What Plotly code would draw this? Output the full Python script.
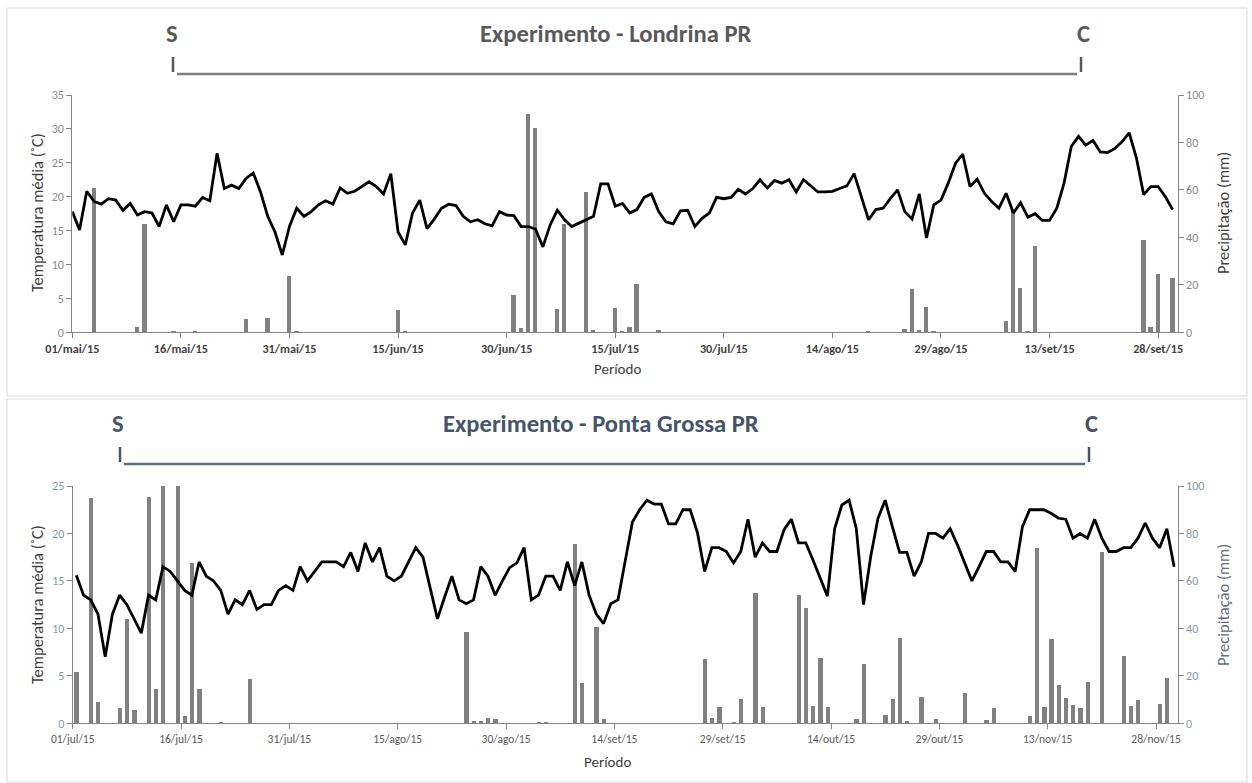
import plotly.graph_objects as go
import pandas as pd

W, H = 1252, 783

# ---------------- DATA ----------------
months_pt = ["jan", "fev", "mar", "abr", "mai", "jun", "jul", "ago", "set", "out", "nov", "dez"]

lon_dates = pd.date_range("2015-05-01", "2015-09-30", freq="D")
pg_dates = pd.date_range("2015-07-01", "2015-11-30", freq="D")

lon_temp = [
    17.8, 15.1, 20.8, 19.3, 18.9, 19.7, 19.5, 18.0, 19.0, 17.3,
    17.8, 17.6, 15.6, 18.8, 16.3, 18.8, 18.8, 18.6, 19.9, 19.4,
    26.4, 21.2, 21.7, 21.2, 22.7, 23.5, 20.7, 17.1, 14.8, 11.4,
    15.6, 18.3, 17.1, 17.8, 18.8, 19.4, 18.9, 21.3, 20.5, 20.8,
    21.5, 22.2, 21.5, 20.4, 23.4, 14.8, 12.9, 17.6, 19.5, 15.3,
    16.7, 18.3, 18.9, 18.7, 17.1, 16.3, 16.6, 16.0, 15.7, 17.8,
    17.3, 17.2, 15.6, 15.6, 15.2, 12.6, 15.8, 18.0, 16.6, 15.6,
    16.1, 16.6, 17.1, 21.9, 21.9, 18.6, 19.0, 17.6, 18.1, 19.9,
    20.4, 17.8, 16.3, 16.0, 17.9, 18.0, 15.6, 16.8, 17.6, 19.9,
    19.7, 19.9, 21.1, 20.4, 21.2, 22.5, 21.3, 22.4, 22.0, 22.5,
    20.7, 22.5, 21.6, 20.7, 20.7, 20.8, 21.2, 21.6, 23.4, 20.0,
    16.6, 18.1, 18.3, 19.7, 21.0, 17.8, 16.7, 20.4, 13.9, 18.8,
    19.5, 22.0, 24.9, 26.3, 21.5, 22.6, 20.5, 19.3, 18.3, 20.5,
    17.6, 19.1, 17.0, 17.5, 16.5, 16.5, 18.3, 22.0, 27.4, 28.9,
    27.6, 28.3, 26.6, 26.5, 27.1, 28.1, 29.4, 25.7, 20.3, 21.5,
    21.5, 20.0, 18.1,
]

lon_prec = [
    0, 0, 0, 61, 0, 0, 0, 0, 0, 2.1,
    45.5, 0, 0, 0, 0.3, 0, 0, 0.5, 0, 0,
    0, 0, 0, 0, 5.5, 0, 0, 6.0, 0, 0,
    23.7, 0.3, 0, 0, 0, 0, 0, 0, 0, 0,
    0, 0, 0, 0, 0, 9.4, 0.3, 0, 0, 0,
    0, 0, 0, 0, 0, 0, 0, 0, 0, 0,
    0, 15.7, 1.7, 91.9, 86.2, 0, 0, 9.7, 45.6, 0,
    0, 59.3, 1.0, 0, 0, 10.4, 0.3, 2.1, 20.2, 0,
    0, 1.0, 0, 0, 0, 0, 0, 0, 0, 0,
    0, 0, 0, 0, 0, 0, 0, 0, 0, 0,
    0, 0, 0, 0, 0, 0, 0, 0, 0, 0,
    0.7, 0, 0, 0, 0, 1.3, 18.1, 1.1, 10.8, 0.4,
    0, 0, 0, 0, 0, 0, 0, 0, 0, 4.9,
    51, 18.5, 0.4, 36.5, 0, 0, 0, 0, 0, 0,
    0, 0, 0, 0, 0, 0, 0, 0, 38.9, 2.1,
    24.4, 0, 23.0,
]

pg_temp = [
    15.6, 13.5, 13.0, 11.5, 7.0, 11.5, 13.5, 12.5, 11.0, 9.5,
    13.5, 13.0, 16.5, 16.0, 15.0, 14.0, 13.5, 17.0, 15.5, 15.0,
    14.0, 11.5, 13.0, 12.5, 14.0, 12.0, 12.5, 12.5, 14.0, 14.5,
    14.0, 16.5, 15.0, 16.0, 17.0, 17.0, 17.0, 16.5, 18.0, 16.0,
    19.0, 17.0, 18.5, 15.5, 15.0, 15.5, 17.0, 18.5, 17.5, 14.2,
    11.0, 13.3, 15.5, 13.0, 12.6, 13.0, 16.5, 15.5, 13.5, 15.0,
    16.4, 16.9, 18.5, 13.0, 13.5, 15.5, 15.5, 14.0, 17.0, 14.5,
    17.0, 13.5, 11.5, 10.5, 12.6, 13.0, 17.2, 21.2, 22.5, 23.5,
    23.1, 23.1, 21.0, 21.0, 22.5, 22.5, 20.1, 16.0, 18.5, 18.5,
    18.1, 16.9, 18.1, 21.5, 17.5, 19.0, 18.1, 18.1, 20.4, 21.5,
    19.0, 19.0, 17.2, 15.2, 13.4, 20.5, 23.0, 23.5, 20.5, 12.5,
    17.6, 21.6, 23.5, 20.7, 18.0, 18.0, 15.5, 17.0, 20.0, 20.0,
    19.5, 20.5, 18.8, 16.9, 15.0, 16.5, 18.1, 18.1, 17.0, 17.0,
    16.0, 20.7, 22.5, 22.5, 22.5, 22.1, 21.6, 21.5, 19.5, 20.0,
    19.5, 21.5, 19.5, 18.1, 18.1, 18.5, 18.5, 19.5, 21.1, 19.5,
    18.5, 20.5, 16.5,
]

pg_prec = [
    21.8, 0, 95.1, 9.1, 0, 0, 6.6, 44.0, 5.5, 0,
    95.4, 14.6, 100, 0, 100, 3.1, 67.4, 14.5, 0, 0,
    0.7, 0, 0, 0, 18.5, 0, 0, 0, 0, 0,
    0, 0, 0, 0, 0, 0, 0, 0, 0, 0,
    0, 0, 0, 0, 0, 0, 0, 0, 0, 0,
    0, 0, 0, 0, 38.6, 1.0, 1.0, 2.4, 1.8, 0,
    0, 0, 0, 0, 0.7, 0.7, 0, 0, 0, 75.4,
    16.9, 0, 40.7, 1.7, 0, 0, 0, 0, 0, 0,
    0, 0, 0, 0, 0, 0, 0, 27.2, 2.1, 6.7,
    0, 0.7, 10.1, 0, 54.8, 7.0, 0, 0, 0, 0,
    54.1, 48.8, 7.3, 27.4, 6.7, 0, 0, 0, 1.7, 25.0,
    0, 0, 3.5, 10.3, 36.1, 1.1, 0, 11.2, 0, 1.7,
    0, 0, 0, 12.6, 0, 0, 1.4, 6.3, 0, 0,
    0, 0, 3.1, 73.7, 6.9, 35.5, 16.3, 10.5, 7.7, 6.6,
    17.3, 0, 72.2, 0, 0, 28.5, 7.2, 9.7, 0, 0,
    8.1, 19.1, 0,
]

lon_ticks = pd.date_range("2015-05-01", periods=11, freq="15D")
pg_ticks = pd.date_range("2015-07-01", periods=11, freq="15D")


def pt_label(d):
    return f"{d.day:02d}/{months_pt[d.month - 1]}/{d.year % 100:02d}"


lon_ticktext = [pt_label(d) for d in lon_ticks]
pg_ticktext = [pt_label(d) for d in pg_ticks]

# ---------------- STYLE HELPERS ----------------
FONT = "Carlito, Lato, Open Sans, sans-serif"
AX = "#868686"
DARK = "#404040"
BLUEGRAY = "#44546A"
TICKBLUE = "#8497B0"
DAY_MS = 86400000


def px(x):
    return x / W


def py(y):
    return 1 - y / H


fig = go.Figure()

# Londrina (points on the day ticks)
fig.add_trace(go.Bar(x=lon_dates, y=lon_prec, marker_color="#808080", marker_line_width=0,
                     width=0.6 * DAY_MS, xaxis="x", yaxis="y", showlegend=False))
fig.add_trace(go.Scatter(x=lon_dates, y=lon_temp, mode="lines", line=dict(color="black", width=2.8),
                         xaxis="x", yaxis="y2", showlegend=False))

# Ponta Grossa (points centred between day ticks)
pg_x = pg_dates + pd.Timedelta(hours=12)
fig.add_trace(go.Bar(x=pg_x, y=pg_prec, marker_color="#808080", marker_line_width=0,
                     width=0.6 * DAY_MS, xaxis="x2", yaxis="y3", showlegend=False))
fig.add_trace(go.Scatter(x=pg_x, y=pg_temp, mode="lines", line=dict(color="black", width=2.8),
                         xaxis="x2", yaxis="y4", showlegend=False))

common_x = dict(type="date", showgrid=False, zeroline=False, showline=True, linecolor=AX, linewidth=1,
                ticks="outside", ticklen=5, tickcolor=AX, tickangle=0, automargin=False)
common_y = dict(showgrid=False, zeroline=False, showline=True, linecolor=AX, linewidth=1,
                ticks="outside", ticklen=5, tickcolor=AX, automargin=False)

lon_end = pd.Timestamp("2015-05-01") + pd.Timedelta(days=152.7)
fig.update_layout(
    xaxis=dict(common_x, domain=[px(72.3), px(1177.7)], anchor="y",
               range=[pd.Timestamp("2015-05-01"), lon_end],
               tickvals=lon_ticks, ticktext=lon_ticktext,
               tickfont=dict(family=FONT, size=12.2, color=DARK, weight="bold")),
    yaxis=dict(common_y, domain=[py(332.3), py(95)], anchor="x", side="right", range=[0, 100], dtick=20,
               tickfont=dict(family=FONT, size=12, color="#8C8C8C")),
    yaxis2=dict(common_y, overlaying="y", anchor="x", side="left", range=[0, 35], dtick=5,
                tickfont=dict(family=FONT, size=12, color="#8C8C8C")),
    xaxis2=dict(common_x, domain=[px(72.7), px(1177.7)], anchor="y3",
                range=[pd.Timestamp("2015-07-01"), pd.Timestamp("2015-12-01")],
                tickvals=pg_ticks, ticktext=pg_ticktext,
                tickfont=dict(family=FONT, size=11.5, color="#595959")),
    yaxis3=dict(common_y, domain=[py(723.3), py(486)], anchor="x2", side="right", range=[0, 100], dtick=20,
                tickfont=dict(family=FONT, size=12, color=TICKBLUE)),
    yaxis4=dict(common_y, overlaying="y3", anchor="x2", side="left", range=[0, 25], dtick=5,
                tickfont=dict(family=FONT, size=12, color=TICKBLUE)),
    bargap=0,
    autosize=False,
    width=W, height=H,
    margin=dict(l=0, r=0, t=0, b=0, pad=0, autoexpand=False),
    paper_bgcolor="white", plot_bgcolor="white",
)

shapes = []
# panel borders
shapes.append(dict(type="rect", xref="paper", yref="paper", x0=px(7), x1=px(1247), y0=py(396), y1=py(8),
                   line=dict(color="#D9D9D9", width=1)))
shapes.append(dict(type="rect", xref="paper", yref="paper", x0=px(7), x1=px(1247), y0=py(782), y1=py(399),
                   line=dict(color="#D9D9D9", width=1)))
# brackets  (left tick x, right tick x, tick top, underline y, colours)
for (xl, xr, ytop, yline, col, col2) in [(173, 1081, 57, 74, "#595959", "#7F7F7F"),
                                          (120, 1089, 447, 464, BLUEGRAY, "#5E6E86")]:
    for xx in (xl, xr):
        shapes.append(dict(type="line", xref="paper", yref="paper", x0=px(xx), x1=px(xx),
                           y0=py(ytop), y1=py(yline - 2), line=dict(color=col, width=2.5)))
    shapes.append(dict(type="line", xref="paper", yref="paper", x0=px(xl + 4), x1=px(xr - 4),
                       y0=py(yline), y1=py(yline), line=dict(color=col2, width=2.5)))
fig.update_layout(shapes=shapes)

ann = []


def add_text(x, y, text, size, color, bold=False, angle=0):
    ann.append(dict(x=px(x), y=py(y), xref="paper", yref="paper", text=text, showarrow=False,
                    xanchor="center", yanchor="middle", textangle=angle,
                    font=dict(family=FONT, size=size, color=color, weight="bold" if bold else "normal")))


TS = 24.6
add_text(616, 34, "Experimento - Londrina PR", TS, "#595959", bold=True)
add_text(172, 34, "S", TS, "#595959", bold=True)
add_text(1083.5, 34, "C", TS, "#595959", bold=True)
add_text(601, 424, "Experimento - Ponta Grossa PR", TS, BLUEGRAY, bold=True)
add_text(118, 424, "S", TS, BLUEGRAY, bold=True)
add_text(1091, 424, "C", TS, BLUEGRAY, bold=True)

add_text(37, 213, "Temperatura média (˚C)", 16.5, DARK, angle=-90)
add_text(1223, 213, "Precipitação (mm)", 16.5, DARK, angle=-90)
add_text(617, 369, "Período", 15, DARK)
add_text(37, 605, "Temperatura média (˚C)", 16.5, DARK, angle=-90)
add_text(1223, 605, "Precipitação (mm)", 16.5, "#5E6E86", angle=-90)
add_text(607, 762, "Período", 15, DARK)
fig.update_layout(annotations=ann)

fig.write_html("out.html", config={"displayModeBar": False},
               post_script="document.body.style.margin='0';")
